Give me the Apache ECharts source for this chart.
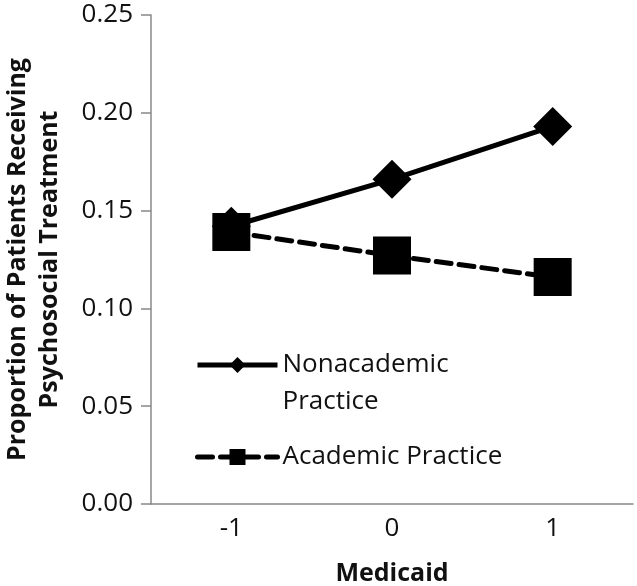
<!DOCTYPE html>
<html><head><meta charset="utf-8">
<script src="https://cdn.jsdelivr.net/npm/echarts@6/dist/echarts.min.js"></script>
<style>html,body{margin:0;padding:0;background:#fff}#c{width:637px;height:586px}</style>
</head><body><div id="c"></div>
<script>
const categories = ['-1', '0', '1'];
const nonacademic = [0.142, 0.166, 0.193];
const academic = [0.139, 0.127, 0.116];
const yTicks = [0, 0.05, 0.10, 0.15, 0.20, 0.25];

const FONT = '"Open Sans", "Liberation Sans", sans-serif';
const chart = echarts.init(document.getElementById('c'));
chart.setOption({
  animation: false,
  grid: { left: 151, right: 4, top: 15, bottom: 82, containLabel: false, outerBoundsMode: 'none' },
  legend: [
    {
      data: ['Nonacademic Practice'], left: 195, top: 309.5, padding: 0,
      itemWidth: 80, itemHeight: 20, itemGap: 0,
      lineStyle: { width: 5 },
      formatter: () => '\nNonacademic\nPractice',
      textStyle: { fontFamily: FONT, fontSize: 26, color: '#111', lineHeight: 37 }
    },
    {
      data: ['Academic Practice'], left: 195, top: 438.5, padding: 0,
      itemWidth: 80, itemHeight: 20,
      lineStyle: { width: 5 },
      textStyle: { fontFamily: FONT, fontSize: 26, color: '#111', lineHeight: 37 }
    }
  ],
  xAxis: {
    type: 'category', data: categories, boundaryGap: true,
    name: 'Medicaid', nameLocation: 'middle', nameGap: 57,
    nameTextStyle: { fontFamily: FONT, fontSize: 25, fontWeight: 'bold', color: '#111' },
    axisLine: { lineStyle: { color: '#888', width: 1.5 } },
    axisTick: { show: false },
    axisLabel: { fontFamily: FONT, fontSize: 26, color: '#111', margin: 12 }
  },
  yAxis: {
    type: 'value', min: 0, max: 0.25, interval: 0.05,
    name: 'Proportion of Patients Receiving\nPsychosocial Treatment',
    nameLocation: 'middle', nameRotate: 90, nameGap: 85,
    nameTextStyle: { fontFamily: FONT, fontSize: 25, fontWeight: 'bold', color: '#111', lineHeight: 32 },
    splitLine: { show: false },
    axisLine: { show: true, lineStyle: { color: '#888', width: 1.5 } },
    axisTick: { show: true, length: 10, lineStyle: { color: '#888', width: 1.5 } },
    axisLabel: { fontFamily: FONT, fontSize: 26, color: '#111', margin: 18,
      formatter: v => v.toFixed(2) }
  },
  series: [
    {
      name: 'Nonacademic Practice', type: 'line', data: nonacademic,
      symbol: 'diamond', symbolSize: 39,
      lineStyle: { color: '#000', width: 5 },
      itemStyle: { color: '#000' }, z: 2
    },
    {
      name: 'Academic Practice', type: 'line', data: academic,
      symbol: 'rect', symbolSize: 38,
      lineStyle: { color: '#000', width: 5, type: [15, 8], cap: 'round' },
      itemStyle: { color: '#000' }, z: 3
    }
  ]
});
</script></body></html>
